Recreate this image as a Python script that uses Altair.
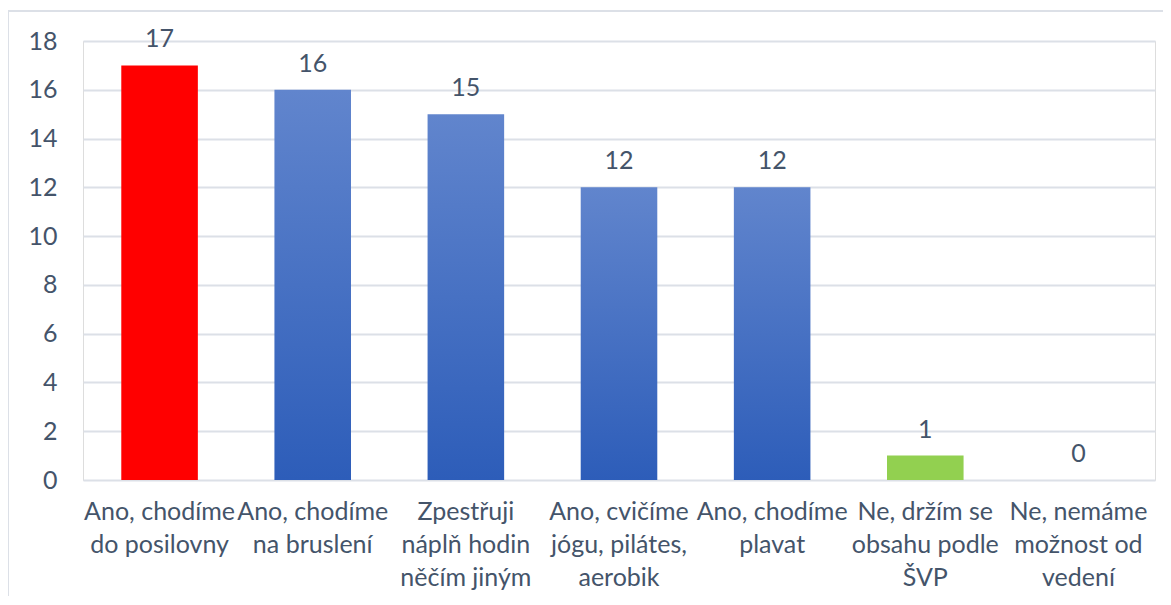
import altair as alt
import pandas as pd

categories = [
    "Ano, chodíme\ndo posilovny",
    "Ano, chodíme\nna bruslení",
    "Zpestřuji\nnáplň hodin\nněčím jiným",
    "Ano, cvičíme\njógu, pilátes,\naerobik",
    "Ano, chodíme\nplavat",
    "Ne, držím se\nobsahu podle\nŠVP",
    "Ne, nemáme\nmožnost od\nvedení",
]
values = [17, 16, 15, 12, 12, 1, 0]
y_ticks = [0, 2, 4, 6, 8, 10, 12, 14, 16, 18]

red_cat = categories[0]
green_cat = categories[5]

df = pd.DataFrame({"cat": categories, "val": values})

FONT = "Lato"
TXT = "#44546A"
FS = 25

blue_gradient = {
    "gradient": "linear",
    "x1": 0, "y1": 0, "x2": 0, "y2": 1,
    "stops": [
        {"offset": 0, "color": "#6185CD"},
        {"offset": 1, "color": "#2D5DB9"},
    ],
}

x_enc = alt.X(
    "cat:N",
    sort=categories,
    scale=alt.Scale(paddingInner=0.5, paddingOuter=0.25),
    axis=alt.Axis(
        title=None,
        labelAngle=0,
        labelExpr="split(datum.label, '\\n')",
        labelFont=FONT,
        labelFontSize=FS,
        labelColor=TXT,
        labelLineHeight=33,
        labelPadding=19,
        labelBaseline="top",
        labelLimit=200,
        domain=False,
        ticks=False,
        grid=False,
    ),
)
y_enc = alt.Y(
    "val:Q",
    scale=alt.Scale(domain=[0, 18], nice=False),
    axis=alt.Axis(
        title=None,
        values=y_ticks,
        labelFont=FONT,
        labelFontSize=FS,
        labelColor=TXT,
        labelPadding=26,
        domain=False,
        ticks=False,
        grid=True,
        gridColor="#DCE0E7",
        gridWidth=2,
    ),
)

base = alt.Chart(df)

frame = base.mark_rect(fill=None, stroke="#DCE0E7", strokeWidth=2, clip=False).encode(
    x=alt.value(-75), x2=alt.value(1200), y=alt.value(-30), y2=alt.value(700)
).transform_filter(alt.datum.cat == red_cat)

blue = base.mark_bar(color=blue_gradient).encode(x=x_enc, y=y_enc).transform_filter(
    (alt.datum.cat != red_cat) & (alt.datum.cat != green_cat)
)
red = base.mark_bar(color="#FF0000").encode(x=x_enc, y=y_enc).transform_filter(
    alt.datum.cat == red_cat
)
green = base.mark_bar(color="#92D050").encode(x=x_enc, y=y_enc).transform_filter(
    alt.datum.cat == green_cat
)
labels = base.mark_text(
    font=FONT, fontSize=FS, color=TXT, baseline="alphabetic", dy=-18
).encode(x=x_enc, y=y_enc, text="val:Q")

chart = (
    alt.layer(frame, blue, red, green, labels)
    .properties(
        width=1072,
        height=439,
        autosize=alt.AutoSizeParams(type="none"),
        padding={"left": 75, "top": 33, "right": 8, "bottom": 116},
    )
    .configure_view(stroke=None)
    .configure(background="white")
)

chart.save("out.html", embed_options={"renderer": "svg", "actions": False})
